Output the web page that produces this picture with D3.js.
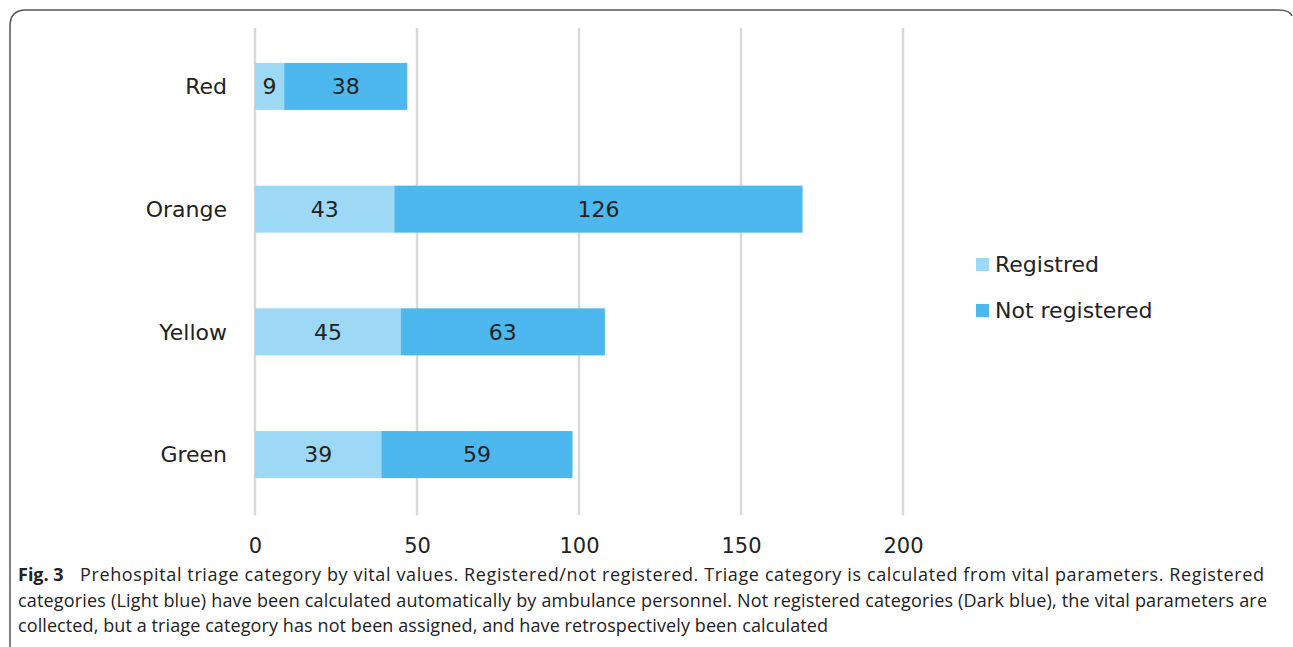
<!DOCTYPE html>
<html>
<head>
<meta charset="utf-8">
<script src="https://cdn.jsdelivr.net/npm/d3@7"></script>
<style>
  body { margin: 0; background: #fff; }
  svg { display: block; }
</style>
</head>
<body>
<div id="chart"></div>
<script>
// Data
const categories = ["Red", "Orange", "Yellow", "Green"];
const registered = [9, 43, 45, 39];
const notRegistered = [38, 126, 63, 59];
const seriesNames = ["Registred", "Not registered"];
const xTicks = [0, 50, 100, 150, 200];
const captionLines = [
  "Prehospital triage category by vital values. Registered/not registered. Triage category is calculated from vital parameters. Registered",
  "categories (Light blue) have been calculated automatically by ambulance personnel. Not registered categories (Dark blue), the vital parameters are",
  "collected, but a triage category has not been assigned, and have retrospectively been calculated"
];

// Styling
const W = 1293, H = 647;
const colours = ["#9dd8f5", "#4db8ee"];
const gridColour = "#d9d9d9";
const labelFont = "'DejaVu Sans', Verdana, sans-serif";
const captionFont = "'Open Sans', sans-serif";
const captionStarts = [80, 18, 18];
const captionWidths = [1184, 1249, 810];

const svg = d3.select("#chart").append("svg")
  .attr("width", W)
  .attr("height", H);

// Frame (top and left sides with rounded corners)
svg.append("path")
  .attr("d", "M10,647 L10,26 Q10,10 26,10 L1278,10 Q1290,10 1292,16")
  .attr("fill", "none")
  .attr("stroke", "#555")
  .attr("stroke-width", 1.5);

// Scales
const xScale = d3.scaleLinear().domain([0, 200]).range([255, 903]);
const yScale = d3.scaleBand().domain(categories).range([26, 515]).paddingInner(0.615).paddingOuter(0.3);

// Gridlines
svg.append("g")
  .selectAll("line")
  .data(xTicks)
  .join("line")
  .attr("x1", d => xScale(d))
  .attr("x2", d => xScale(d))
  .attr("y1", 28)
  .attr("y2", 515)
  .attr("stroke", gridColour)
  .attr("stroke-width", 2.5);

// Stacked bars
const stackData = categories.map((c, i) => ({ cat: c, Registred: registered[i], "Not registered": notRegistered[i] }));
const stacked = d3.stack().keys(seriesNames)(stackData);
const bandH = 47;

const layers = svg.append("g").selectAll("g")
  .data(stacked)
  .join("g")
  .attr("fill", (d, i) => colours[i]);

layers.selectAll("rect")
  .data(d => d)
  .join("rect")
  .attr("x", d => xScale(d[0]))
  .attr("width", d => xScale(d[1]) - xScale(d[0]))
  .attr("y", d => yScale(d.data.cat) + yScale.bandwidth() / 2 - bandH / 2)
  .attr("height", bandH);

// Value labels
layers.selectAll("text")
  .data(d => d)
  .join("text")
  .attr("x", d => (xScale(d[0]) + xScale(d[1])) / 2)
  .attr("y", d => yScale(d.data.cat) + yScale.bandwidth() / 2)
  .attr("dy", "0.36em")
  .attr("text-anchor", "middle")
  .attr("fill", "#222")
  .style("font-family", labelFont)
  .style("font-size", "22px")
  .text(d => d[1] - d[0]);

// Category axis labels
svg.append("g")
  .selectAll("text")
  .data(categories)
  .join("text")
  .attr("x", 227)
  .attr("y", d => yScale(d) + yScale.bandwidth() / 2)
  .attr("dy", "0.36em")
  .attr("text-anchor", "end")
  .attr("fill", "#222")
  .style("font-family", labelFont)
  .style("font-size", "22px")
  .text(d => d);

// X axis tick labels
const xAxis = d3.axisBottom(xScale).tickValues(xTicks).tickSize(0).tickPadding(0);
const gx = svg.append("g")
  .attr("transform", "translate(0, 538)")
  .call(xAxis);
gx.select(".domain").remove();
gx.selectAll("text")
  .attr("fill", "#222")
  .style("font-family", labelFont)
  .style("font-size", "21px");

// Legend
const legend = svg.append("g")
  .selectAll("g")
  .data(seriesNames)
  .join("g")
  .attr("transform", (d, i) => `translate(976, ${264 + i * 46})`);

legend.append("rect")
  .attr("x", 0)
  .attr("y", -6)
  .attr("width", 13)
  .attr("height", 13)
  .attr("fill", (d, i) => colours[i]);

legend.append("text")
  .attr("x", 19)
  .attr("dy", "0.36em")
  .attr("fill", "#222")
  .style("font-family", labelFont)
  .style("font-size", "22px")
  .text(d => d);

// Caption
const caption = svg.append("g");
caption.append("text")
  .attr("x", 18)
  .attr("y", 581)
  .style("font-family", captionFont)
  .style("font-size", "18px")
  .style("font-weight", "bold")
  .attr("fill", "#222")
  .text("Fig. 3");

caption.selectAll("text.line")
  .data(captionLines)
  .join("text")
  .attr("class", "line")
  .attr("x", (d, i) => captionStarts[i])
  .attr("y", (d, i) => 581 + i * 25.5)
  .attr("textLength", (d, i) => captionWidths[i])
  .attr("lengthAdjust", "spacing")
  .style("font-family", captionFont)
  .style("font-size", "18px")
  .attr("fill", "#222")
  .text(d => d);
</script>
</body>
</html>
